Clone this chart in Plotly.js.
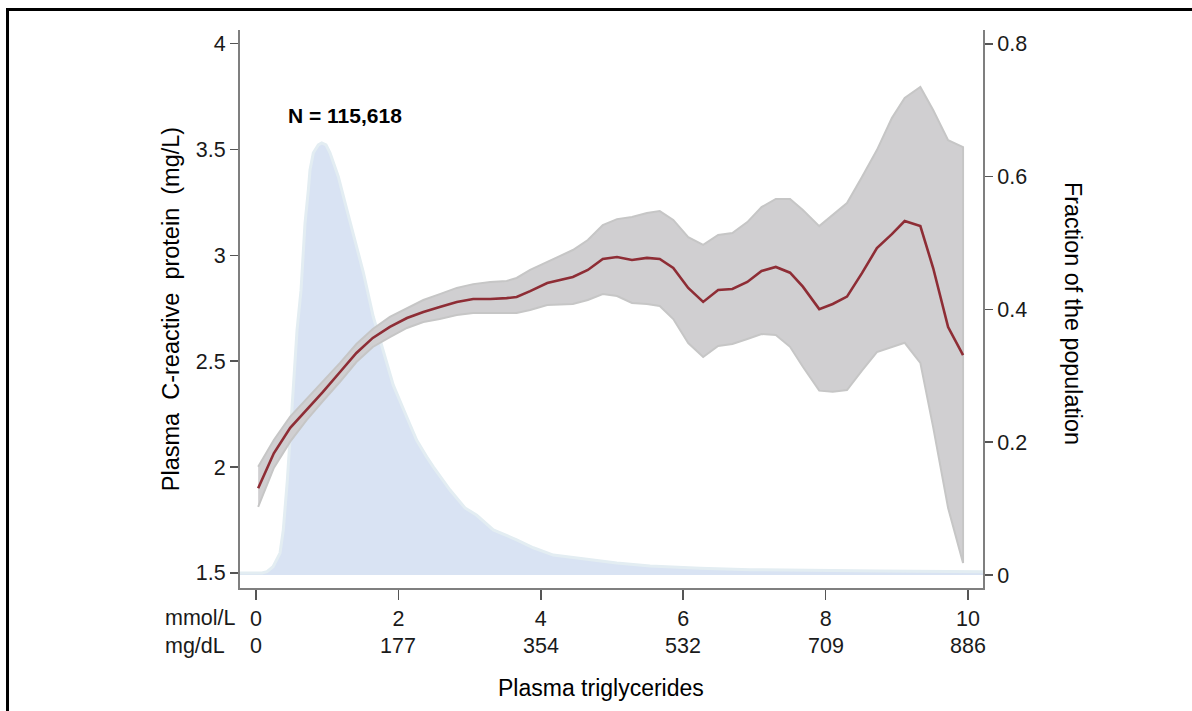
<!DOCTYPE html>
<html>
<head>
<meta charset="utf-8">
<script src="https://cdn.plot.ly/plotly-3.0.1.min.js"></script>
<style>
html,body{margin:0;padding:0;background:#fff;}
#chart{width:1192px;height:711px;}
</style>
</head>
<body>
<div id="chart"></div>
<script>
// Triglycerides (mmol/L) grid for CRP curve
const crpX = [0.03,0.25,0.48,0.71,0.94,1.18,1.41,1.64,1.88,2.12,2.35,2.58,2.82,3.05,3.29,3.52,3.66,3.85,4.09,4.45,4.66,4.87,5.07,5.28,5.49,5.67,5.86,6.07,6.28,6.49,6.69,6.9,7.1,7.3,7.5,7.68,7.91,8.1,8.3,8.51,8.72,8.93,9.11,9.33,9.51,9.72,9.93];
const crpMean = [1.900,2.065,2.185,2.270,2.355,2.449,2.539,2.610,2.662,2.704,2.732,2.756,2.780,2.794,2.794,2.798,2.803,2.831,2.869,2.898,2.931,2.983,2.992,2.978,2.988,2.983,2.940,2.846,2.780,2.836,2.841,2.874,2.926,2.945,2.918,2.852,2.746,2.770,2.805,2.916,3.034,3.100,3.162,3.138,2.940,2.661,2.529];
const crpUpper = [2.002,2.128,2.238,2.322,2.402,2.492,2.581,2.652,2.709,2.751,2.789,2.817,2.846,2.864,2.874,2.879,2.893,2.931,2.968,3.025,3.072,3.143,3.171,3.181,3.200,3.209,3.167,3.086,3.049,3.096,3.105,3.157,3.228,3.266,3.266,3.214,3.138,3.190,3.247,3.370,3.497,3.648,3.743,3.795,3.686,3.544,3.511];
const crpLower = [1.812,1.996,2.120,2.222,2.312,2.403,2.496,2.567,2.614,2.657,2.685,2.699,2.718,2.728,2.728,2.728,2.728,2.742,2.765,2.770,2.789,2.817,2.808,2.775,2.770,2.761,2.699,2.586,2.520,2.572,2.581,2.605,2.628,2.624,2.568,2.474,2.361,2.356,2.364,2.455,2.543,2.568,2.587,2.492,2.189,1.807,1.547];

// Population distribution (fraction)
const densX = [-0.225,0,0.084,0.154,0.239,0.337,0.383,0.440,0.478,0.524,0.576,0.632,0.688,0.735,0.758,0.805,0.875,0.923,0.983,1.039,1.156,1.274,1.367,1.507,1.647,1.788,1.928,2.117,2.257,2.397,2.490,2.725,2.935,3.100,3.333,3.661,3.895,4.176,4.597,5.066,5.534,6.236,6.94,7.64,8.76,10.21];
const densY = [0.003,0.003,0.003,0.005,0.0125,0.033,0.068,0.143,0.203,0.279,0.369,0.429,0.530,0.580,0.610,0.636,0.648,0.651,0.648,0.636,0.600,0.551,0.512,0.456,0.389,0.339,0.286,0.238,0.203,0.178,0.163,0.128,0.101,0.090,0.068,0.053,0.041,0.030,0.024,0.018,0.0136,0.010,0.008,0.007,0.006,0.005];

// Tick labels
const xTickVals = [0,2,4,6,8,10];
const mmolLabels = ['0','2','4','6','8','10'];
const mgdlLabels = ['0','177','354','532','709','886'];
const leftTicks = [1.5,2,2.5,3,3.5,4];
const leftTickText = ['1.5','2','2.5','3','3.5','4'];
const rightTicks = [0,0.2,0.4,0.6,0.8];
const rightTickText = ['0','0.2','0.4','0.6','0.8'];

const FONT = 'Liberation Sans, Arial, sans-serif';
const FS = 21.5;
const TXT = '#1a1a1a';
const AX = '#7f7f7f';

const bandX = crpX.concat(crpX.slice().reverse());
const bandY = crpUpper.concat(crpLower.slice().reverse());

const traces = [
  {x: densX, y: densY, type: 'scatter', mode: 'lines', fill: 'tozeroy',
   fillcolor: '#d9e3f3', line: {color: '#e3edf2', width: 3}, yaxis: 'y', hoverinfo: 'skip', showlegend: false},
  {x: bandX, y: bandY, type: 'scatter', mode: 'lines', fill: 'toself',
   fillcolor: '#d0cfd1', line: {color: '#c6c6c6', width: 2}, yaxis: 'y2', hoverinfo: 'skip', showlegend: false},
  {x: crpX, y: crpMean, type: 'scatter', mode: 'lines',
   line: {color: '#8e2d35', width: 2.6}, yaxis: 'y2', showlegend: false}
];

const annotations = [
  {text: '<b>N = 115,618</b>', xref: 'paper', yref: 'paper', x: 0.1413, y: 0.846,
   xanchor: 'center', yanchor: 'middle', showarrow: false, font: {family: FONT, size: 21, color: '#000'}},
  {text: 'Fraction of the population', xref: 'paper', yref: 'paper', x: 1.1211, y: 0.491,
   xanchor: 'center', yanchor: 'middle', textangle: 90, showarrow: false, font: {family: FONT, size: 23.3, color: '#000'}},
  {text: 'Plasma triglycerides', xref: 'paper', yref: 'paper', x: (601 - 240) / 743, y: (588 - 688) / 558,
   xanchor: 'center', yanchor: 'middle', showarrow: false, font: {family: FONT, size: 23, color: '#000'}},
  {text: 'mmol/L', xref: 'paper', yref: 'paper', x: -0.1036, y: -0.0538,
   xanchor: 'left', yanchor: 'middle', showarrow: false, font: {family: FONT, size: FS, color: TXT}},
  {text: 'mg/dL', xref: 'paper', yref: 'paper', x: -0.1036, y: -0.1039,
   xanchor: 'left', yanchor: 'middle', showarrow: false, font: {family: FONT, size: FS, color: TXT}}
];
xTickVals.forEach((v, i) => {
  annotations.push({text: mgdlLabels[i], xref: 'x', yref: 'paper', x: v, y: -0.1039,
    xanchor: 'center', yanchor: 'middle', showarrow: false, font: {family: FONT, size: FS, color: TXT}});
});

const layout = {
  width: 1192, height: 711,
  margin: {l: 240, r: 209, t: 30, b: 123},
  paper_bgcolor: '#fff', plot_bgcolor: 'rgba(0,0,0,0)',
  font: {family: FONT, size: FS, color: TXT},
  showlegend: false,
  xaxis: {
    range: [-0.225, 10.21], showgrid: false, zeroline: false,
    showline: true, linecolor: AX, linewidth: 2,
    tickmode: 'array', tickvals: xTickVals, ticktext: mmolLabels,
    ticks: 'outside', ticklen: 10, tickwidth: 1.5, tickcolor: '#555',
    tickfont: {family: FONT, size: FS, color: TXT}
  },
  yaxis: {
    side: 'right', range: [-0.0196, 0.821], showgrid: false, zeroline: false,
    showline: true, linecolor: AX, linewidth: 2,
    tickmode: 'array', tickvals: rightTicks, ticktext: rightTickText,
    ticks: 'outside', ticklen: 8, tickwidth: 1.5, tickcolor: '#555',
    tickfont: {family: FONT, size: FS, color: TXT}
  },
  yaxis2: {
    overlaying: 'y', side: 'left', range: [1.429, 4.064], showgrid: false, zeroline: false,
    showline: true, linecolor: AX, linewidth: 2,
    tickmode: 'array', tickvals: leftTicks, ticktext: leftTickText,
    ticks: 'outside', ticklen: 8, tickwidth: 1.5, tickcolor: '#555',
    tickfont: {family: FONT, size: FS, color: TXT},
    title: {text: 'Plasma\u00a0\u00a0C-reactive\u00a0\u00a0protein\u00a0\u00a0(mg/L)', font: {family: FONT, size: 23.5, color: '#000'}, standoff: 10}
  },
  annotations: annotations,
  shapes: [
    {type: 'line', xref: 'paper', yref: 'paper', x0: -0.3149, x1: 1.32, y0: 1.0367, y1: 1.0367, line: {color: '#000', width: 3}},
    {type: 'line', xref: 'paper', yref: 'paper', x0: -0.3129, x1: -0.3129, y0: -0.25, y1: 1.039, line: {color: '#000', width: 3}}
  ]
};

Plotly.newPlot('chart', traces, layout, {displayModeBar: false, staticPlot: true});
</script>
</body>
</html>
